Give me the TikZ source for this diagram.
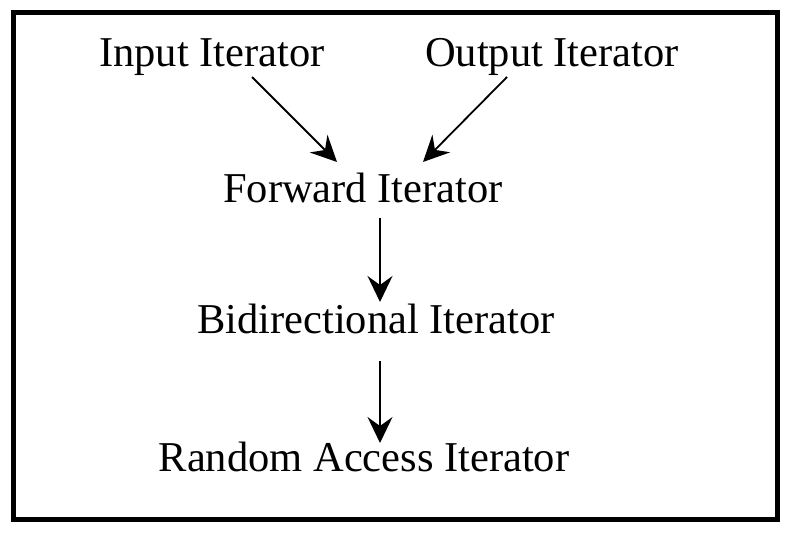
\documentclass[tikz,border=0pt]{standalone}
\usepackage{fontspec}
\setmainfont{Liberation Serif}
\usetikzlibrary{arrows.meta,calc}
\begin{document}
\begin{tikzpicture}[x=1pt,y=-1pt,
  lbl/.style={inner sep=0pt,anchor=base,font=\fontsize{42.5}{50}\selectfont},
  arr/.style={line width=1.8pt,-{Stealth[length=26pt,width=25pt,inset=9pt]}}]
\useasboundingbox (0,0) rectangle (791,532);
\fill[white] (0,0) rectangle (791,532);
\draw[line width=5pt] (13,13) rectangle (777,519);
\node[lbl] (in) at (212,67) {Input Iterator};
\node[lbl] (out) at (552,67) {Output Iterator};
\node[lbl] (fwd) at (363,202) {Forward Iterator};
\node[lbl] (bid) at (376,333) {Bidirectional Iterator};
\node[lbl] (ran) at (364,471) {Random Access Iterator};
\draw[arr] ($(in.base)+(40,10)$) -- ($(fwd.base)+(-26,-40)$);
\draw[arr] ($(out.base)+(-45,10)$) -- ($(fwd.base)+(60,-40)$);
\draw[arr] ($(fwd.base)+(17,16)$) -- ($(bid.base)+(4,-31)$);
\draw[arr] ($(bid.base)+(4,28)$) -- ($(ran.base)+(16,-28)$);
\end{tikzpicture}
\end{document}
